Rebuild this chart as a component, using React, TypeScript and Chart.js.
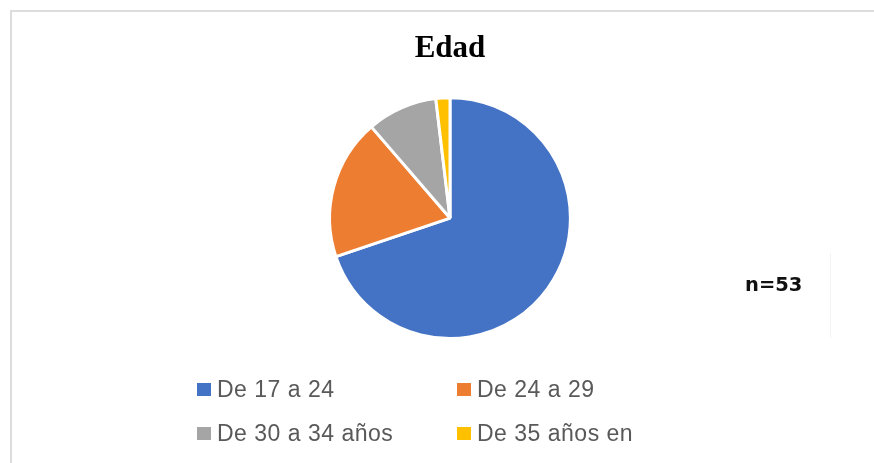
import React, { useEffect, useRef } from "react";
import { Chart, registerables } from "chart.js";

Chart.register(...registerables);

const categories = ["De 17 a 24", "De 24 a 29", "De 30 a 34 años", "De 35 años en"];
const counts = [37, 10, 5, 1];
const colors = ["#4472C4", "#ED7D31", "#A5A5A5", "#FFC000"];
const titleText = "Edad";
const noteText = "n=53";

export default function App() {
  const ref = useRef<HTMLCanvasElement | null>(null);

  useEffect(() => {
    document.body.style.margin = "0";
    const ctx = ref.current;
    if (!ctx) return;
    const chart = new Chart(ctx, {
      type: "pie",
      data: {
        labels: categories,
        datasets: [
          {
            data: counts,
            backgroundColor: colors,
            borderColor: "#ffffff",
            borderWidth: 3,
          },
        ],
      },
      options: {
        responsive: false,
        animation: false,
        layout: { padding: { left: 26, right: 0, top: 0, bottom: 123 } },
        plugins: {
          legend: { display: false },
          tooltip: { enabled: false },
          title: {
            display: true,
            text: titleText,
            color: "#000000",
            font: { family: '"Liberation Serif", "Times New Roman", serif', size: 31, weight: "bold" },
            padding: { top: 30, bottom: 29 },
          },
        },
      },
    });
    return () => chart.destroy();
  }, []);

  const rowTops = [378, 422];
  const colLefts = [197, 457];

  return (
    <div style={{ position: "relative", width: 874, height: 463, overflow: "hidden", background: "#fff" }}>
      <div
        style={{
          position: "absolute",
          left: 10,
          top: 10,
          width: 900,
          height: 500,
          borderLeft: "2px solid #dcdcdc",
          borderTop: "2px solid #dcdcdc",
        }}
      />
      <div style={{ position: "absolute", left: 830, top: 253, width: 1, height: 85, background: "#f3f3f3" }} />
      <canvas ref={ref} width={874} height={463} style={{ position: "absolute", left: 0, top: 0 }} />
      {categories.map((c, i) => {
        const row = Math.floor(i / 2);
        const col = i % 2;
        return (
          <div
            key={c}
            style={{
              position: "absolute",
              left: colLefts[col],
              top: rowTops[row],
              height: 23,
              display: "flex",
              alignItems: "flex-start",
              whiteSpace: "nowrap",
            }}
          >
            <div style={{ width: 14, height: 13, background: colors[i], marginTop: 5, marginRight: 6 }} />
            <span
              style={{
                fontFamily: '"Liberation Sans", Arial, sans-serif',
                fontSize: 23,
                lineHeight: "23px",
                letterSpacing: 0.5,
                color: "#595959",
              }}
            >
              {c}
            </span>
          </div>
        );
      })}
      <div
        style={{
          position: "absolute",
          left: 745,
          top: 275,
          fontFamily: '"DejaVu Sans", sans-serif',
          fontWeight: "bold",
          fontSize: 19.5,
          lineHeight: "20px",
          color: "#111111",
          whiteSpace: "nowrap",
        }}
      >
        {noteText}
      </div>
    </div>
  );
}
